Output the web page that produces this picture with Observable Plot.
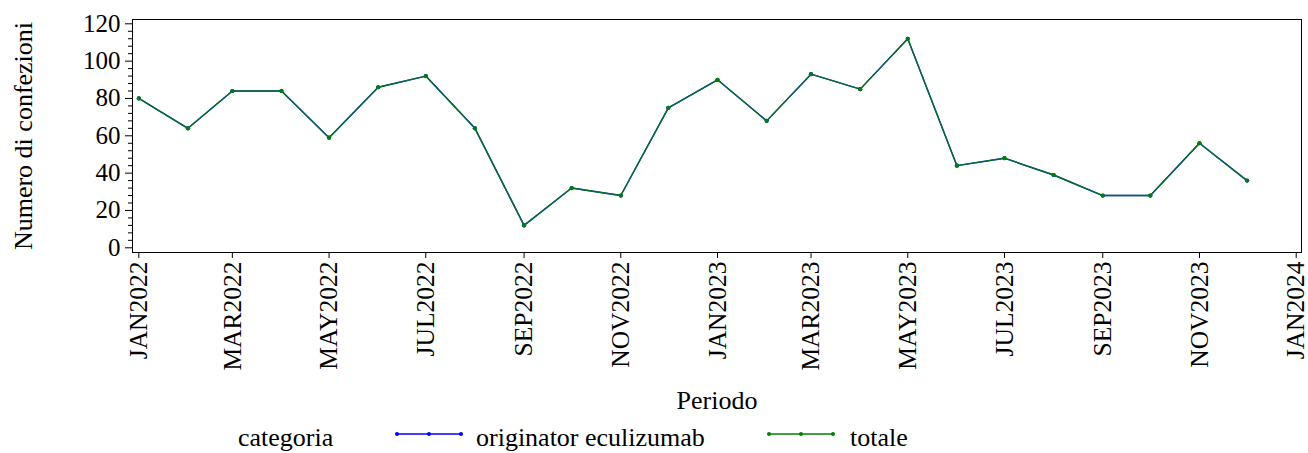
<!DOCTYPE html>
<html>
<head>
<meta charset="utf-8">
<script src="https://cdn.jsdelivr.net/npm/d3@7"></script>
<script src="https://cdn.jsdelivr.net/npm/@observablehq/plot@0.6"></script>
<style>
  html, body { margin: 0; padding: 0; background: #fff; }
  body { width: 1308px; height: 453px; overflow: hidden; font-family: "Liberation Serif", "Times New Roman", serif; color: #000; }
  #chart svg { display: block; }
  #legend { position: relative; width: 1308px; height: 35px; font-size: 26px; }
  #legend .txt { position: absolute; top: 7px; line-height: 26px; white-space: nowrap; }
  #legend .sw { position: absolute; top: 11px; display: block; }
</style>
</head>
<body>
<div id="chart"></div>
<div id="legend"></div>
<script>
// ---- data ----
const months = ["JAN2022","FEB2022","MAR2022","APR2022","MAY2022","JUN2022","JUL2022","AUG2022","SEP2022","OCT2022","NOV2022","DEC2022",
                "JAN2023","FEB2023","MAR2023","APR2023","MAY2023","JUN2023","JUL2023","AUG2023","SEP2023","OCT2023","NOV2023","DEC2023"];
const originatorValues = [80,64,84,84,59,86,92,64,12,32,28,75,90,68,93,85,112,44,48,39,28,28,56,36];
const totaleValues     = [80,64,84,84,59,86,92,64,12,32,28,75,90,68,93,85,112,44,48,39,28,28,56,36];
const seriesNames = ["originator eculizumab", "totale"];
const seriesColors = ["#0000ff", "#008000"];
const xTickLabels = ["JAN2022","MAR2022","MAY2022","JUL2022","SEP2022","NOV2022","JAN2023","MAR2023","MAY2023","JUL2023","SEP2023","NOV2023","JAN2024"];
const yTicks = [0,20,40,60,80,100,120];
const yMinorTicks = [4,8,12,16,24,28,32,36,44,48,52,56,64,68,72,76,84,88,92,96,104,108,112,116];
const yLabel = "Numero di confezioni";
const xLabel = "Periodo";
const legendTitle = "categoria";

// ---- build ----
const parse = d3.utcParse("%b%Y");
const fmt = d => d3.utcFormat("%b%Y")(d).toUpperCase();
const rows = [];
seriesNames.forEach((s, i) => {
  const vals = i === 0 ? originatorValues : totaleValues;
  months.forEach((m, j) => rows.push({serie: s, date: parse(m), value: vals[j]}));
});
const xTicks = xTickLabels.map(parse);

const plot = Plot.plot({
  width: 1308,
  height: 418,
  marginLeft: 132,
  marginRight: 7,
  marginTop: 19,
  marginBottom: 166,
  style: {fontFamily: "'Liberation Serif', 'Times New Roman', serif", color: "#000", background: "#fff"},
  x: {type: "utc", domain: [parse("JAN2022"), parse("JAN2024")], range: [138.3, 1295.7]},
  y: {domain: [0, 120], range: [247.3, 23.3]},
  color: {domain: seriesNames, range: seriesColors},
  marks: [
    Plot.frame({stroke: "#000", strokeWidth: 1}),
    Plot.axisY({ticks: yMinorTicks, tickSize: 4, text: null, label: null, stroke: "#000"}),
    Plot.axisY({ticks: yTicks, tickSize: 7, tickPadding: 5, fontSize: 25, label: null, stroke: "#000", fill: "#000"}),
    Plot.axisX({ticks: xTicks, tickFormat: fmt, tickRotate: -90, tickSize: 6, tickPadding: 3, fontSize: 25.5, label: null, stroke: "#000", fill: "#000"}),
    Plot.line(rows.filter(d => d.serie === seriesNames[0]), {x: "date", y: "value", stroke: "serie", strokeWidth: 1.4}),
    Plot.dot(rows.filter(d => d.serie === seriesNames[0]), {x: "date", y: "value", fill: "serie", r: 2.1}),
    Plot.line(rows.filter(d => d.serie === seriesNames[1]), {x: "date", y: "value", stroke: "serie", strokeWidth: 1.4, strokeOpacity: 0.85}),
    Plot.dot(rows.filter(d => d.serie === seriesNames[1]), {x: "date", y: "value", fill: "serie", r: 2.1}),
    Plot.text([yLabel], {text: d => d, frameAnchor: "left", dx: -109, rotate: -90, fontSize: 26, fill: "#000", textAnchor: "middle", lineAnchor: "middle"}),
    Plot.text([xLabel], {text: d => d, frameAnchor: "bottom", dy: 148, fontSize: 26, fill: "#000", textAnchor: "middle", lineAnchor: "middle"})
  ]
});
document.getElementById("chart").appendChild(plot);

// ---- legend ----
const legend = document.getElementById("legend");
function addText(left, str) {
  const t = document.createElement("span");
  t.className = "txt";
  t.style.left = left + "px";
  t.textContent = str;
  legend.appendChild(t);
}
addText(238, legendTitle);
const swatchLeft = [394, 766];
const textLeft = [476, 850];
seriesNames.forEach((s, i) => {
  const sw = d3.create("svg").attr("class", "sw").attr("width", 70).attr("height", 10)
    .style("left", swatchLeft[i] + "px");
  sw.append("line").attr("x1", 2).attr("x2", 68).attr("y1", 5).attr("y2", 5).attr("stroke", seriesColors[i]).attr("stroke-width", 1.4);
  [3, 35, 67].forEach(cx => sw.append("circle").attr("cx", cx).attr("cy", 5).attr("r", 2).attr("fill", seriesColors[i]));
  legend.appendChild(sw.node());
  addText(textLeft[i], s);
});
</script>
</body>
</html>
